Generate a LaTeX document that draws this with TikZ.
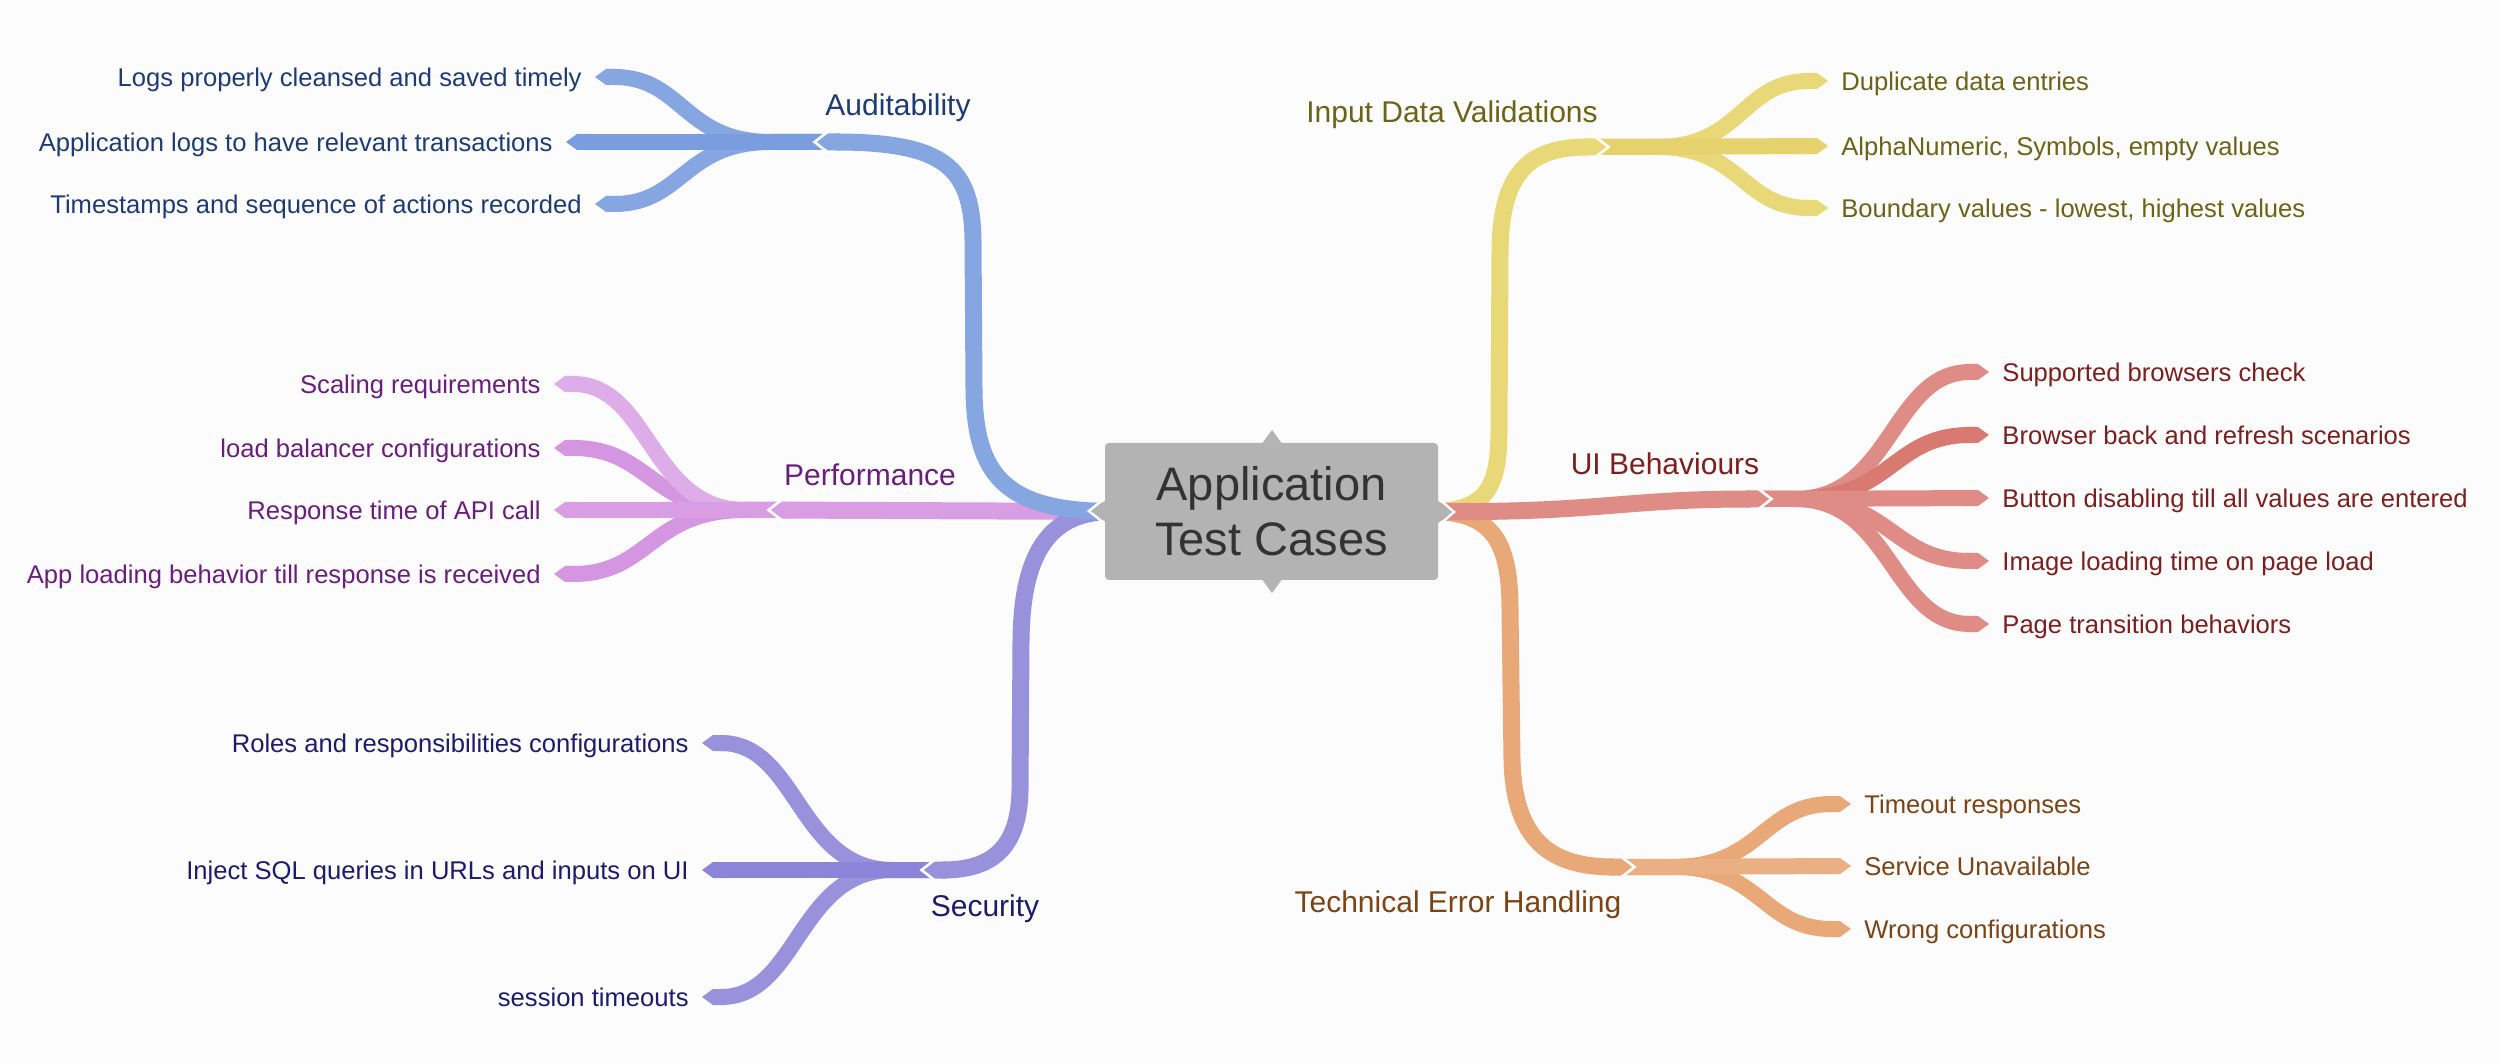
\documentclass[tikz,border=0pt]{standalone}
\usepackage{fontspec}
\setmainfont{Liberation Sans}
\usetikzlibrary{arrows.meta}
\pgfdeclarelayer{bgl}
\pgfdeclarelayer{back}
\pgfsetlayers{bgl,back,main}
\definecolor{bgc}{HTML}{FCFCFC}
\definecolor{boxgray}{HTML}{B3B3B3}
\definecolor{ctext}{HTML}{333333}
\definecolor{blueB}{HTML}{85A6E0}
\definecolor{blueB2}{HTML}{7A9DE0}
\definecolor{blueT}{HTML}{1F3B73}
\definecolor{pinkB}{HTML}{D89DE3}
\definecolor{pinkB1}{HTML}{DDACE9}
\definecolor{pinkB2}{HTML}{D596E1}
\definecolor{pinkT}{HTML}{6A1E7C}
\definecolor{purpB}{HTML}{9A91DD}
\definecolor{purpB2}{HTML}{8C84D9}
\definecolor{purpT}{HTML}{1E1B6B}
\definecolor{yelB}{HTML}{E9D878}
\definecolor{yelB2}{HTML}{E6D26C}
\definecolor{yelT}{HTML}{6B6317}
\definecolor{redB}{HTML}{DF8C87}
\definecolor{redB2}{HTML}{D97A72}
\definecolor{redT}{HTML}{7B1F1F}
\definecolor{oraB}{HTML}{E8A878}
\definecolor{oraB2}{HTML}{EAB083}
\definecolor{oraT}{HTML}{7A4416}
\begin{document}
\begin{tikzpicture}[x=0.5pt,y=-0.5pt,
  mainbr/.style={line width=8.5pt,-{Triangle Cap[length=5.5pt]}},
  subbr/.style={line width=8pt,-{Triangle Cap[length=5.5pt]}},
  lch/.style={anchor=east,inner xsep=6.5pt,inner ysep=0pt,text height=9.2pt,text depth=0pt,font=\fontsize{12.8pt}{15pt}\selectfont},
  rch/.style={lch,anchor=west},
  cat/.style={inner sep=0pt,text height=10.7pt,text depth=0pt,font=\fontsize{15pt}{18pt}\selectfont},
  gap/.style={draw=white,line width=1.3pt},
  centerbox/.style={fill=boxgray,rounded corners=2pt,minimum width=166.5pt,minimum height=68.5pt,inner sep=0pt,align=center,text=ctext,font=\fontsize{23.5pt}{27.5pt}\selectfont}
]
\begin{pgfonlayer}{bgl}
\fill[bgc] (0,0) rectangle (2500,1063);
\end{pgfonlayer}
\useasboundingbox (0,0) rectangle (2500,1063);

% central node
\node[centerbox] (c) at (1271.5,511.5) {Application\\Test Cases};
\fill[boxgray] (1261,445) -- (1272,430) -- (1283,445) -- cycle;
\fill[boxgray] (1261,578) -- (1272,593) -- (1283,578) -- cycle;
\draw[gap] (1104,499) -- (1089,511) -- (1104,523);
\fill[boxgray] (1106,500) -- (1091,511) -- (1106,522) -- cycle;
\draw[gap] (1439,499) -- (1454,512) -- (1439,525);
\fill[boxgray] (1437,500) -- (1452,512) -- (1437,524) -- cycle;

% category tips and labels
\coordinate (audT) at (816,142);
\coordinate (perfT) at (770,510);
\coordinate (secT) at (923,870);
\coordinate (idvT) at (1607,147);
\coordinate (uiT) at (1770,499);
\coordinate (tehT) at (1633,867);
\node[cat,text=blueT] (aud) at (898,105) {Auditability};
\node[cat,text=pinkT] (perf) at (870,475) {Performance};
\node[cat,text=purpT] (sec) at (985,906) {Security};
\node[cat,text=yelT] (idv) at (1452,112) {Input Data Validations};
\node[cat,text=redT] (ui) at (1665,464) {UI Behaviours};
\node[cat,text=oraT] (teh) at (1458,902) {Technical Error Handling};

% children
\node[lch,text=blueT] (a1) at (595,77) {Logs properly cleansed and saved timely};
\node[lch,text=blueT] (a2) at (566,142) {Application logs to have relevant transactions};
\node[lch,text=blueT] (a3) at (595,204) {Timestamps and sequence of actions recorded};
\node[lch,text=pinkT] (p1) at (554,384) {Scaling requirements};
\node[lch,text=pinkT] (p2) at (554,448) {load balancer configurations};
\node[lch,text=pinkT] (p3) at (554,510) {Response time of API call};
\node[lch,text=pinkT] (p4) at (554,574) {App loading behavior till response is received};
\node[lch,text=purpT] (s1) at (702,743) {Roles and responsibilities configurations};
\node[lch,text=purpT] (s2) at (702,870) {Inject SQL queries in URLs and inputs on UI};
\node[lch,text=purpT] (s3) at (702,997) {session timeouts};
\node[rch,text=yelT] (v1) at (1828,81) {Duplicate data entries};
\node[rch,text=yelT] (v2) at (1828,146) {AlphaNumeric, Symbols, empty values};
\node[rch,text=yelT] (v3) at (1828,208) {Boundary values - lowest, highest values};
\node[rch,text=redT] (u1) at (1989,372) {Supported browsers check};
\node[rch,text=redT] (u2) at (1989,435) {Browser back and refresh scenarios};
\node[rch,text=redT] (u3) at (1989,498) {Button disabling till all values are entered};
\node[rch,text=redT] (u4) at (1989,561) {Image loading time on page load};
\node[rch,text=redT] (u5) at (1989,624) {Page transition behaviors};
\node[rch,text=oraT] (t1) at (1851,804) {Timeout responses};
\node[rch,text=oraT] (t2) at (1851,866) {Service Unavailable};
\node[rch,text=oraT] (t3) at (1851,929) {Wrong configurations};

\begin{pgfonlayer}{back}
% sub-branches: Auditability
\draw[subbr,blueB] ([xshift=5.5pt]audT) -- (771,142) .. controls (683,142) and (683,77) .. (a1.east);
\draw[subbr,blueB] ([xshift=5.5pt]audT) -- (771,142) .. controls (683,142) and (683,204) .. (a3.east);
\draw[subbr,blueB2] ([xshift=5.5pt]audT) -- (a2.east);
% Performance
\draw[subbr,pinkB2] ([xshift=5.5pt]perfT) -- (745,510) .. controls (650,510) and (650,574) .. (p4.east);
\draw[subbr,pinkB2] ([xshift=5.5pt]perfT) -- (745,510) .. controls (650,510) and (650,448) .. (p2.east);
\draw[subbr,pinkB1] ([xshift=5.5pt]perfT) -- (745,510) .. controls (650,510) and (650,384) .. (p1.east);
\draw[subbr,pinkB] ([xshift=5.5pt]perfT) -- (p3.east);
% Security
\draw[subbr,purpB] ([xshift=5.5pt]secT) -- (893,870) .. controls (798,870) and (798,743) .. (s1.east);
\draw[subbr,purpB] ([xshift=5.5pt]secT) -- (893,870) .. controls (798,870) and (798,997) .. (s3.east);
\draw[subbr,purpB2] ([xshift=5.5pt]secT) -- (s2.east);
% Input Data Validations
\draw[subbr,yelB] ([xshift=-5.5pt]idvT) -- (1657,147) .. controls (1742,147) and (1742,81) .. (v1.west);
\draw[subbr,yelB] ([xshift=-5.5pt]idvT) -- (1657,147) .. controls (1742,147) and (1742,208) .. (v3.west);
\draw[subbr,yelB2] ([xshift=-5.5pt]idvT) -- (v2.west);
% UI Behaviours
\draw[subbr,redB] ([xshift=-5.5pt]uiT) -- (1795,499) .. controls (1892,499) and (1892,372) .. (u1.west);
\draw[subbr,redB2] ([xshift=-5.5pt]uiT) -- (1795,499) .. controls (1892,499) and (1892,435) .. (u2.west);
\draw[subbr,redB] ([xshift=-5.5pt]uiT) -- (1795,499) .. controls (1892,499) and (1892,624) .. (u5.west);
\draw[subbr,redB] ([xshift=-5.5pt]uiT) -- (1795,499) .. controls (1892,499) and (1892,561) .. (u4.west);
\draw[subbr,redB] ([xshift=-5.5pt]uiT) -- (u3.west);
% Technical Error Handling
\draw[subbr,oraB] ([xshift=-5.5pt]tehT) -- (1673,867) .. controls (1762,867) and (1762,804) .. (t1.west);
\draw[subbr,oraB] ([xshift=-5.5pt]tehT) -- (1673,867) .. controls (1762,867) and (1762,929) .. (t3.west);
\draw[subbr,oraB2] ([xshift=-5.5pt]tehT) -- (t2.west);

% main branches
\draw[mainbr,pinkB] ([xshift=3pt]c.west) -- (perfT);
\draw[mainbr,purpB] ([xshift=3pt]c.west) .. controls (1045,512) and (1022,560) .. (1021,640) -- (1020,790) .. controls (1019,850) and (990,870) .. (secT);
\draw[mainbr,blueB] ([xshift=3pt]c.west) .. controls (1005,511) and (975,475) .. (974,390) -- (973,240) .. controls (972,168) and (945,142) .. (audT);
\draw[mainbr,yelB] ([xshift=-3pt]c.east) .. controls (1488,511) and (1499,485) .. (1499,430) -- (1500,250) .. controls (1501,172) and (1530,147) .. (idvT);
\draw[mainbr,oraB] ([xshift=-3pt]c.east) .. controls (1495,512) and (1510,545) .. (1510,610) -- (1512,760) .. controls (1514,840) and (1550,867) .. (tehT);
\draw[mainbr,redB] ([xshift=-3pt]c.east) .. controls (1600,513) and (1620,499) .. (uiT);

% white gaps at category tips
\draw[gap] ([shift={(14,-12)}]audT) -- ([shift={(-1.5,0)}]audT) -- ([shift={(14,12)}]audT);
\draw[gap] ([shift={(14,-12)}]perfT) -- ([shift={(-1.5,0)}]perfT) -- ([shift={(14,12)}]perfT);
\draw[gap] ([shift={(14,-12)}]secT) -- ([shift={(-1.5,0)}]secT) -- ([shift={(14,12)}]secT);
\draw[gap] ([shift={(-14,-12)}]idvT) -- ([shift={(1.5,0)}]idvT) -- ([shift={(-14,12)}]idvT);
\draw[gap] ([shift={(-14,-12)}]uiT) -- ([shift={(1.5,0)}]uiT) -- ([shift={(-14,12)}]uiT);
\draw[gap] ([shift={(-14,-12)}]tehT) -- ([shift={(1.5,0)}]tehT) -- ([shift={(-14,12)}]tehT);
\end{pgfonlayer}
\end{tikzpicture}
\end{document}
